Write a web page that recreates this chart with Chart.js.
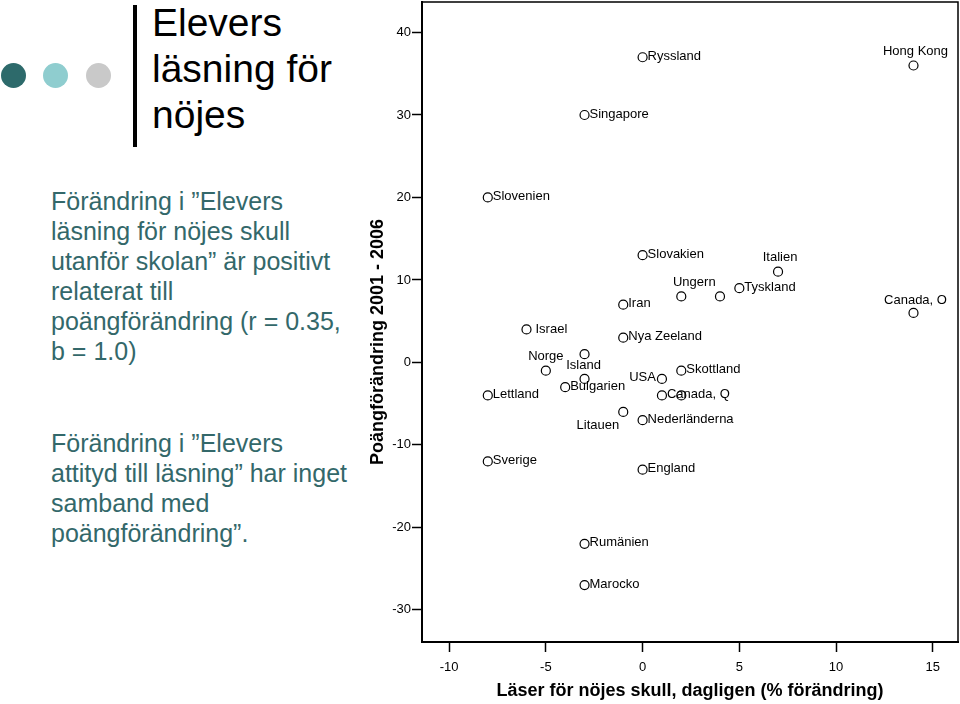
<!DOCTYPE html>
<html>
<head>
<meta charset="utf-8">
<script src="https://cdn.jsdelivr.net/npm/chart.js@4.4.1/dist/chart.umd.min.js"></script>
<style>
    body { margin: 0; width: 960px; height: 704px; background: #fff; position: relative; overflow: hidden;
           font-family: 'Liberation Sans', Arial, sans-serif; }
    .dot { position: absolute; width: 25px; height: 25px; border-radius: 50%; top: 63px; }
    .bar { position: absolute; left: 133px; top: 5px; width: 4px; height: 142px; background: #000; }
    .title { position: absolute; left: 152px; top: 0; font-size: 39px; line-height: 46px; color: #000; }
    .text { position: absolute; left: 51px; font-size: 25px; line-height: 30px; color: #33686a; white-space: nowrap; }
    #graph { position: absolute; left: 360px; top: 0; }
</style>
</head>
<body>
<div class="dot" style="left:1px;background:#2d6a6b"></div>
<div class="dot" style="left:43px;background:#8fcdcf"></div>
<div class="dot" style="left:86px;background:#c9c9c9"></div>
<div class="bar"></div>
<div class="title">Elevers<br>läsning för<br>nöjes</div>
<div class="text" style="top:186px">Förändring i ”Elevers<br>läsning för nöjes skull<br>utanför skolan” är positivt<br>relaterat till<br>poängförändring (r = 0.35,<br>b = 1.0)</div>
<div class="text" style="top:428px">Förändring i ”Elevers<br>attityd till läsning” har inget<br>samband med<br>poängförändring”.</div>
<canvas id="graph" width="600" height="704"></canvas>
<script>
const countries = ['Ryssland', 'Hong Kong', 'Singapore', 'Slovenien', 'Slovakien', 'Italien', 'Ungern', '',
    'Tyskland', 'Canada, O', 'Iran', 'Israel', 'Nya Zeeland', 'Norge', 'Island', '', 'Bulgarien', 'USA',
    'Skottland', 'Canada, Q', '', 'Lettland', 'Litauen', 'Nederländerna', 'Sverige', 'England', 'Rumänien', 'Marocko'];
const readingChange = [0, 14, -3, -8, 0, 7, 2, 4, 5, 14, -1, -6, -1, -5, -3, -3, -4, 1, 2, 1, 2, -8, -1, 0, -8, 0, -3, -3];
const scoreChange = [37, 36, 30, 20, 13, 11, 8, 8, 9, 6, 7, 4, 3, -1, 1, -2, -3, -2, -1, -4, -4, -4, -6, -7, -12, -13, -22, -27];
const xTicks = [-10, -5, 0, 5, 10, 15];
const yTicks = [-30, -20, -10, 0, 10, 20, 30, 40];

// where each label sits relative to its circle: [textAlign, dx, dy]
const labelPlacement = {
    'Hong Kong': ['center', 2, -14],
    'Italien': ['center', 2, -14],
    'Ungern': ['center', 13, -14],
    'Canada, O': ['center', 2, -13],
    'Norge': ['center', 0, -14],
    'Island': ['center', -1, 11],
    'USA': ['right', -6, -1],
    'Litauen': ['right', -4, 14],
    'Israel': ['left', 9, 0]
};

Chart.defaults.font.family = "'Liberation Sans', Arial, sans-serif";
Chart.defaults.color = '#000';

const canvas = document.getElementById('graph');

const framePlugin = {
    id: 'frame',
    afterDraw(chart) {
        const ctx = chart.ctx;
        const a = chart.chartArea;
        ctx.save();
        ctx.strokeStyle = '#000';
        ctx.lineWidth = 1.5;
        ctx.beginPath();
        ctx.moveTo(a.left, a.top);
        ctx.lineTo(a.right, a.top);
        ctx.lineTo(a.right, a.bottom);
        ctx.stroke();
        ctx.restore();
    }
};

const labelPlugin = {
    id: 'pointLabels',
    afterDatasetsDraw(chart) {
        const ctx = chart.ctx;
        const meta = chart.getDatasetMeta(0);
        ctx.save();
        ctx.font = "13px 'Liberation Sans', Arial, sans-serif";
        ctx.fillStyle = '#000';
        ctx.textBaseline = 'middle';
        meta.data.forEach((pt, i) => {
            const name = countries[i];
            if (!name) return;
            const [align, dx, dy] = labelPlacement[name] || ['left', 5, -1];
            ctx.textAlign = align;
            ctx.fillText(name, pt.x + dx, pt.y + dy);
        });
        ctx.restore();
    }
};

// fixed axis sizes, no extra room for overhanging tick labels
function fixSize(s, w, h) {
    if (w) s.width = w;
    if (h) s.height = h;
    s.paddingLeft = 0;
    s.paddingRight = 0;
    s.paddingTop = 0;
    s.paddingBottom = 0;
}

const data = {
    datasets: [{
        data: readingChange.map((x, i) => ({ x: x, y: scoreChange[i] })),
        pointStyle: 'circle',
        pointRadius: 4.5,
        pointBorderWidth: 1.2,
        borderColor: '#000',
        backgroundColor: 'rgba(0,0,0,0)',
        clip: false
    }]
};

const options = {
    responsive: false,
    animation: false,
    devicePixelRatio: 1,
    layout: { autoPadding: false, padding: { left: 0, right: 2, top: 2, bottom: 0 } },
    plugins: { legend: { display: false }, tooltip: { enabled: false } },
    events: [],
    scales: {
        x: {
            type: 'linear',
            min: -11.4,
            max: 16.3,
            afterBuildTicks: s => { s.ticks = xTicks.map(v => ({ value: v })); },
            afterFit: s => fixSize(s, 0, 62),
            grid: { drawOnChartArea: false, tickLength: 10, tickColor: '#000', tickWidth: 1.5 },
            border: { color: '#000', width: 2 },
            ticks: { padding: 8, font: { size: 13 }, maxRotation: 0 },
            title: {
                display: true,
                text: 'Läser för nöjes skull, dagligen (% förändring)',
                font: { size: 18, weight: 'bold' },
                padding: { top: 0, bottom: 2 }
            }
        },
        y: {
            type: 'linear',
            min: -33.9,
            max: 43.7,
            afterBuildTicks: s => { s.ticks = yTicks.map(v => ({ value: v })); },
            afterFit: s => fixSize(s, 62, 0),
            grid: { drawOnChartArea: false, tickLength: 10, tickColor: '#000', tickWidth: 1.5 },
            border: { color: '#000', width: 2 },
            ticks: { padding: 1, font: { size: 13 } },
            title: {
                display: true,
                // trailing spaces push the visible text down to where the original sits
                text: 'Poängförändring 2001 - 2006        ',
                font: { size: 18, weight: 'bold' },
                padding: { top: 7, bottom: 0 }
            }
        }
    }
};

new Chart(canvas, {
    type: 'scatter',
    data: data,
    options: options,
    plugins: [framePlugin, labelPlugin]
});
</script>
</body>
</html>
